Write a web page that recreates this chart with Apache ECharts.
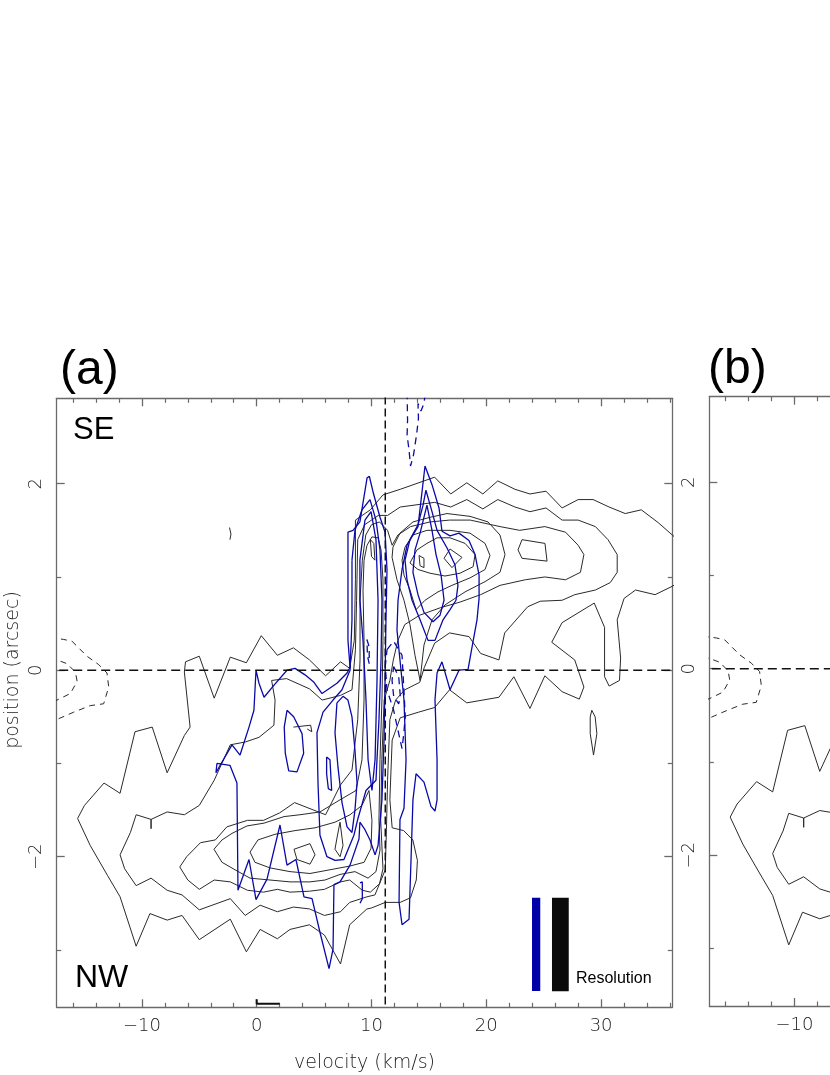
<!DOCTYPE html>
<html><head><meta charset="utf-8">
<script src="https://cdn.jsdelivr.net/npm/echarts@6/dist/echarts.min.js"></script>
<style>html,body{margin:0;padding:0;background:#fff}#c{width:830px;height:1075px}</style>
</head><body><div id="c"></div>
<script>
// ---- axis tick values ----
const velTicks = [-10, 0, 10, 20, 30];
const velMinor = [-16,-14,-12,-8,-6,-4,-2,2,4,6,8,12,14,16,18,22,24,26,28,32,34,36];
const posTicks = [-2, 0, 2];
const posMinor = [-3, -1, 1];
const velRange = [-17.42, 36.2];
const posRange = [-3.615, 2.916];
const systemicVel = 11.2;   // vertical dashed reference
const centerPos = 0;        // horizontal dashed reference

// ---- black (solid) contours [velocity, position] ----
const k1 = [[-15.6,-1.59],[-15.0,-1.45],[-13.3,-1.21],[-11.9,-1.32],[-10.6,-0.66],[-9.1,-0.61],[-7.8,-1.10],[-6.3,-0.70],[-5.8,-0.61],[-6.3,-0.02],[-6.2,0.09],[-5.0,0.15],[-3.7,-0.30],[-2.3,0.14],[-0.9,0.08],[0.4,0.37],[1.8,0.16],[3.2,0.24],[4.6,0.11],[6.0,-0.06],[7.3,0.09],[8.1,0.02],[8.5,0.32],[8.6,0.97],[8.6,1.61],[9.9,1.72],[11.0,1.88],[12.5,1.94],[15.5,2.07],[16.9,1.89],[18.3,2.01],[19.7,1.89],[21.0,2.03],[22.5,1.94],[23.8,1.89],[25.2,1.92],[26.6,1.74],[28.0,1.83],[29.3,1.83],[30.7,1.75],[32.1,1.68],[33.5,1.72],[35.0,1.58],[36.2,1.45],[37.7,1.29],[37.7,1.02],[36.2,0.90],[34.7,0.81],[33.0,0.86],[32.0,0.77],[31.4,0.54],[31.7,0.13],[31.6,-0.11],[30.7,-0.17],[30.3,-0.07],[30.3,0.46],[29.4,0.72],[26.6,0.51],[25.7,0.30],[27.7,0.11],[28.5,-0.18],[28.1,-0.31],[26.6,-0.23],[25.1,-0.06],[23.8,-0.41],[22.4,-0.07],[21.1,-0.29],[18.3,-0.35],[16.8,-0.21],[15.5,-0.40],[14.1,-0.45],[12.5,-0.51],[11.8,-0.75],[11.6,-1.39],[11.8,-1.69],[12.8,-1.72],[13.6,-1.82],[14.0,-2.04],[13.9,-2.25],[13.4,-2.44],[12.5,-2.49],[11.2,-2.49],[10.0,-2.55],[9.6,-2.56],[8.1,-2.73],[7.3,-3.15],[5.9,-2.84],[4.6,-2.73],[2.9,-2.78],[1.8,-2.88],[0.3,-2.78],[-0.9,-3.02],[-2.3,-2.67],[-5.0,-2.89],[-6.5,-2.63],[-7.8,-2.68],[-9.3,-2.61],[-10.5,-2.96],[-11.9,-2.43],[-13.0,-2.20],[-14.5,-1.88],[-15.6,-1.59]];
const k2 = [[-11.9,-1.98],[-11.0,-1.74],[-10.5,-1.55],[-9.2,-1.60],[-9.2,-1.70],[-9.2,-1.60],[-7.8,-1.52],[-6.3,-1.55],[-5.0,-1.45],[-3.7,-1.18],[-2.3,-0.80],[-1.0,-0.77],[0.2,-0.72],[1.5,-0.59],[1.6,-0.32],[1.3,-0.11],[2.6,-0.09],[4.6,-0.20],[5.7,-0.32],[7.3,-0.27],[8.3,-0.21],[8.6,0.22],[8.7,0.75],[8.8,1.40],[9.4,1.56],[10.6,1.66],[11.4,1.66],[12.5,1.75],[15.5,1.80],[16.9,1.75],[18.3,1.83],[19.7,1.73],[21.0,1.83],[22.5,1.75],[23.8,1.70],[25.2,1.74],[26.6,1.61],[28.0,1.61],[29.5,1.54],[30.6,1.40],[31.4,1.24],[31.4,1.05],[30.8,0.94],[29.5,0.86],[27.7,0.81],[26.6,0.75],[24.7,0.74],[23.6,0.68],[21.6,0.40],[21.1,0.11],[19.5,0.18],[18.5,0.36],[16.8,0.40],[15.5,0.29],[14.6,0.03],[14.2,-0.13],[12.9,-0.21],[12.1,-0.32],[11.6,-0.53],[11.4,-1.18],[11.3,-1.71],[11.2,-2.14],[10.3,-2.41],[9.6,-2.43],[8.1,-2.49],[7.3,-2.59],[5.9,-2.63],[4.6,-2.56],[3.2,-2.54],[1.8,-2.59],[0.3,-2.52],[-1.0,-2.63],[-2.3,-2.45],[-5.0,-2.57],[-6.5,-2.41],[-7.8,-2.36],[-9.2,-2.23],[-10.5,-2.31],[-11.5,-2.13],[-11.9,-1.98]];
const k3 = [[-6.7,-2.11],[-6.1,-2.00],[-4.9,-1.85],[-3.6,-1.82],[-2.6,-1.68],[-0.8,-1.61],[0.6,-1.61],[2.0,-1.53],[3.3,-1.42],[6.0,-1.55],[7.3,-1.23],[8.3,-1.07],[8.8,-0.53],[9.0,0.11],[9.0,0.75],[9.2,1.18],[9.5,1.45],[10.0,1.56],[10.7,1.59],[11.4,1.50],[11.8,1.34],[12.3,1.45],[13.4,1.54],[15.1,1.59],[16.8,1.61],[18.6,1.61],[21.2,1.54],[22.9,1.50],[25.1,1.54],[26.9,1.48],[28.0,1.34],[28.5,1.24],[28.2,1.05],[26.9,0.97],[25.1,1.00],[23.4,0.97],[21.2,0.91],[19.5,0.81],[17.7,0.73],[16.0,0.67],[14.2,0.59],[12.9,0.49],[12.3,0.32],[11.9,0.11],[11.6,-0.11],[11.1,-0.32],[10.9,-0.96],[10.8,-1.61],[11.0,-2.13],[10.7,-2.29],[9.9,-2.38],[9.2,-2.36],[8.1,-2.25],[7.3,-2.27],[5.9,-2.35],[4.6,-2.37],[2.9,-2.38],[1.8,-2.35],[0.6,-2.38],[-0.8,-2.36],[-2.3,-2.27],[-3.7,-2.25],[-5.0,-2.35],[-6.0,-2.25],[-6.7,-2.11]];
const k4 = [[-3.72,-1.92],[-3.02,-1.82],[-2.15,-1.75],[-0.84,-1.67],[0.64,-1.64],[2.38,-1.57],[3.77,-1.55],[5.51,-1.52],[7.26,-1.39],[8.65,-1.29],[9.17,-0.96],[9.35,-0.32],[9.35,0.32],[9.26,0.86],[9.35,1.18],[9.61,1.34],[10.04,1.43],[10.57,1.42],[10.83,1.29],[11.0,0.97],[11.0,0.32],[10.91,-0.32],[10.74,-0.96],[10.65,-1.61],[10.74,-1.93],[10.39,-2.16],[9.70,-2.23],[8.56,-2.16],[7.26,-2.19],[5.95,-2.25],[4.64,-2.27],[2.90,-2.27],[1.16,-2.25],[-0.58,-2.23],[-1.89,-2.14],[-3.02,-2.06],[-3.72,-1.92]];
const k5 = [[-0.58,-1.95],[0.11,-1.82],[1.59,-1.76],[3.34,-1.72],[5.08,-1.69],[6.82,-1.63],[8.13,-1.55],[9.17,-1.45],[9.78,-1.29],[10.04,-1.61],[9.96,-1.91],[9.35,-2.06],[8.13,-2.10],[6.39,-2.14],[4.64,-2.18],[2.90,-2.16],[1.16,-2.12],[-0.15,-2.06],[-0.58,-1.95]];
const k6 = [[3.25,-1.92],[4.64,-1.86],[5.08,-1.98],[4.64,-2.08],[3.51,-2.03],[3.25,-1.92]];
const k6b = [[6.99,-1.80],[7.26,-1.63],[7.52,-1.88],[7.26,-2.00],[6.82,-1.92],[6.99,-1.80]];
const r3 = [[11.79,1.21],[11.87,1.32],[12.48,1.47],[13.61,1.59],[15.10,1.64],[16.58,1.68],[18.58,1.65],[20.15,1.59],[21.19,1.45],[21.63,1.24],[21.19,1.05],[19.89,0.95],[18.15,0.84],[16.40,0.70],[15.27,0.54],[14.57,0.27],[14.23,-0.11],[13.79,0.16],[13.35,0.49],[12.83,0.75],[12.22,0.97],[11.79,1.21]];
const r4 = [[12.66,1.18],[12.92,1.32],[13.61,1.45],[14.83,1.50],[16.84,1.50],[18.58,1.47],[19.89,1.36],[20.32,1.23],[19.89,1.08],[18.58,0.99],[17.01,0.91],[15.79,0.84],[14.66,0.75],[13.88,0.65],[13.35,0.86],[12.83,1.02],[12.66,1.18]];
const r5 = [[13.35,1.15],[13.96,1.29],[14.83,1.36],[15.71,1.42],[16.84,1.42],[18.15,1.36],[19.02,1.24],[18.85,1.11],[17.71,1.04],[16.40,1.01],[15.10,1.04],[14.05,1.08],[13.35,1.15]];
const r6 = [[16.84,1.30],[17.88,1.21],[17.01,1.10],[16.32,1.20],[16.84,1.30]];
const r7 = [[23.11,1.40],[25.11,1.36],[25.29,1.17],[23.11,1.20],[22.76,1.29],[23.11,1.40]];
const r8 = [[14.14,1.23],[14.57,1.20],[14.57,1.10],[14.23,1.12],[14.14,1.23]];
const peakLoop = [[9.9,1.40],[10.2,1.36],[10.3,1.18],[10.0,1.22],[9.9,1.40]];
const farLoop = [[29.19,-0.43],[29.48,-0.50],[29.63,-0.68],[29.34,-0.91],[29.05,-0.68],[29.05,-0.50],[29.19,-0.43]];
const squiggle = [[-2.37,1.53],[-2.24,1.46],[-2.37,1.47],[-2.33,1.40]];
const hook = [[3.2,-0.61],[4.7,-0.59],[4.8,-0.66],[4.4,-0.63]];

// ---- black dashed (negative) contours ----
const kd1 = [[-18.0,0.35],[-17.39,0.34],[-16.81,0.33],[-16.08,0.31],[-14.78,0.15],[-13.76,0.06],[-13.04,-0.03],[-12.89,-0.18],[-13.33,-0.36],[-14.50,-0.38],[-15.94,-0.45],[-17.25,-0.52],[-18.0,-0.56]];
const kd2 = [[-18.0,0.13],[-17.39,0.11],[-16.52,0.07],[-15.79,-0.02],[-15.64,-0.12],[-16.23,-0.25],[-17.39,-0.32],[-18.0,-0.34]];

// ---- blue (solid) contours ----
const bl1 = [[9.81,2.08],[10.16,1.90],[10.74,1.64],[11.18,1.48],[11.35,1.08],[11.26,0.54],[11.18,-0.11],[11.09,-0.75],[10.91,-1.39],[10.57,-1.88],[10.31,-1.98],[9.87,-1.82],[9.43,-1.71],[8.99,-1.63],[8.91,-1.81],[8.13,-2.09],[7.26,-2.27],[6.73,-2.30],[6.65,-2.99],[6.30,-3.20],[5.51,-2.81],[4.82,-2.45],[4.12,-2.43],[3.42,-2.03],[2.64,-2.09],[2.03,-1.66],[0.90,-2.24],[-0.06,-2.46],[-0.67,-2.03],[-1.63,-2.36],[-1.72,-1.21],[-2.33,-1.02],[-3.46,-1.00],[-3.55,-1.10],[-2.76,-0.93],[-2.15,-0.80],[-1.45,-0.91],[-0.67,-0.61],[-0.24,-0.43],[-0.06,0.00],[0.20,-0.14],[0.64,-0.29],[1.51,-0.16],[2.64,0.00],[3.34,0.02],[4.21,-0.05],[4.99,-0.13],[5.69,-0.25],[6.99,-0.14],[7.87,-0.03],[8.13,0.03],[7.95,0.32],[7.95,1.18],[7.95,1.48],[8.39,1.50],[8.99,1.59],[9.61,2.06],[9.81,2.08]];
const bl2 = [[8.30,1.18],[8.56,1.50],[9.17,1.72],[9.87,1.83],[10.39,1.61],[10.74,1.29],[10.91,0.75],[10.83,0.11],[10.65,-0.53],[10.39,-1.18],[9.52,-1.29],[8.82,-1.59],[8.47,-1.77],[7.60,-2.03],[6.82,-2.04],[6.12,-2.00],[5.51,-1.77],[5.34,-1.21],[5.25,-0.67],[5.78,-0.45],[6.65,-0.32],[7.43,-0.21],[8.13,0.00],[8.30,0.54],[8.30,1.18]];
const bl3 = [[9.43,1.61],[9.96,1.70],[10.39,1.40],[10.57,0.75],[10.48,-0.11],[10.31,-0.96],[10.04,-1.29],[9.70,-0.96],[9.52,-0.32],[9.26,0.32],[8.99,0.75],[8.99,1.18],[9.43,1.61]];
const bl4 = [[6.99,-0.35],[6.82,-0.67],[7.08,-1.04],[7.43,-1.42],[7.87,-1.68],[8.30,-1.74],[8.56,-1.50],[8.74,-1.21],[8.56,-0.86],[8.30,-0.50],[7.95,-0.32],[7.52,-0.28],[6.99,-0.35]];
const bl5 = [[6.09,-0.93],[6.38,-0.96],[6.53,-1.29],[6.24,-1.27],[6.09,-1.11],[6.09,-0.93]];
const bl6 = [[2.64,-0.43],[3.22,-0.50],[3.95,-0.68],[4.09,-0.89],[3.51,-1.09],[2.79,-1.08],[2.49,-0.89],[2.40,-0.61],[2.64,-0.43]];
const blTiny = [[9.0,-2.28],[9.2,-2.27],[9.2,-2.45],[9.0,-2.50]];
const br1 = [[14.66,2.19],[15.27,1.99],[15.88,1.74],[16.14,1.49],[16.84,1.44],[17.62,1.47],[18.49,1.39],[19.02,1.24],[19.37,1.02],[19.37,0.77],[19.19,0.54],[18.76,0.25],[18.41,0.01],[17.62,0.00],[16.84,-0.21],[16.14,0.09],[15.71,-0.03],[15.53,-0.32],[15.71,-0.96],[15.71,-1.39],[15.53,-1.51],[15.18,-1.46],[14.57,-1.20],[13.88,-1.11],[13.61,-1.39],[13.44,-2.04],[13.27,-2.67],[12.66,-2.73],[12.40,-2.49],[12.48,-1.60],[12.83,-1.48],[13.01,-0.96],[12.83,-0.32],[12.48,0.11],[12.22,0.43],[12.31,0.75],[12.66,1.08],[13.09,1.34],[13.61,1.45],[14.05,1.54],[14.66,2.19]];
const br2 = [[14.74,1.93],[15.27,1.70],[15.71,1.50],[16.58,1.31],[17.27,1.13],[17.53,0.91],[17.36,0.75],[16.84,0.65],[16.23,0.54],[15.53,0.32],[14.92,0.32],[14.23,0.54],[13.53,0.75],[13.09,0.97],[12.92,1.18],[13.35,1.40],[14.05,1.56],[14.49,1.77],[14.74,1.93]];
const br3 = [[14.83,1.77],[15.27,1.50],[15.62,1.24],[16.06,1.02],[16.32,0.75],[15.97,0.59],[15.36,0.52],[14.57,0.62],[14.05,0.81],[13.61,1.05],[13.79,1.29],[14.23,1.47],[14.83,1.77]];

// ---- blue dashed (negative) contours ----
const bd1 = [[13.1,2.98],[13.14,2.68],[13.1,2.52],[13.27,2.36],[13.4,2.19],[13.66,2.31],[13.92,2.52],[14.09,2.70],[14.05,2.86],[14.31,2.78],[14.57,2.86],[14.7,2.98]];
const bd2 = [[11.35,0.22],[11.93,0.31],[12.66,0.16],[12.81,-0.18],[12.94,-0.50],[12.81,-0.68],[12.66,-0.84],[12.37,-0.68],[11.93,-0.43],[11.35,-0.21],[11.2,0.04],[11.35,0.22]];
const bd3 = [[11.93,0.04],[12.37,-0.07],[12.51,-0.28],[12.37,-0.36],[11.93,-0.28],[11.79,-0.11],[11.93,0.04]];
const bd4 = [[9.6,0.33],[9.8,0.25],[9.8,0.07],[9.65,0.15],[9.6,0.33]];

// ---- resolution bars [vMin, vMax, pTop, pBottom] and channel bar ----
const resBarBlue = [23.98, 24.70, -2.44, -3.44];
const resBarBlack = [25.72, 27.18, -2.44, -3.443];
const channelBar = [[0, -3.529], [0, -3.576], [2.0, -3.576]];

const blackSolid = [k1,k2,k3,k4,k5,k6,k6b,r3,r4,r5,r6,r7,r8,peakLoop,farLoop,squiggle,hook];
const blackDashed = [kd1,kd2];
const blueSolid = [bl1,bl2,bl3,bl4,bl5,bl6,blTiny,br1,br2,br3];
const blueDashed = [bd1,bd2,bd3,bd4];

const AX = '#6a6a6a';
const BLUE = '#0a0aa8';
const BLK = '#2a2a2a';
const minusFmt = v => String(v).replace('-', '\u2212');
const tickFont = {color:'#222', fontSize:18, fontFamily:'DejaVu Sans', fontWeight:300};

function xAxes(g, withName) {
  const base = {type:'value', gridIndex:g, min:velRange[0], max:velRange[1], splitLine:{show:false}, axisPointer:{show:false}};
  return [
    Object.assign({}, base, {position:'bottom', axisLine:{show:true,onZero:false,lineStyle:{color:AX,width:1.3}},
      axisTick:{show:true,inside:true,length:8,customValues:velTicks,lineStyle:{color:AX,width:1.3}},
      axisLabel:Object.assign({show:true,customValues:velTicks,formatter:minusFmt,margin:10}, tickFont),
      name: withName ? 'velocity (km/s)' : '', nameLocation:'middle', nameGap:46,
      nameTextStyle:{color:'#222',fontSize:19,fontFamily:'DejaVu Sans',fontWeight:300}}),
    Object.assign({}, base, {position:'top', axisLine:{show:true,onZero:false,lineStyle:{color:AX,width:1.3}},
      axisTick:{show:true,inside:true,length:8,customValues:velTicks,lineStyle:{color:AX,width:1.3}}, axisLabel:{show:false}}),
    Object.assign({}, base, {position:'bottom', axisLine:{show:false,onZero:false},
      axisTick:{show:true,inside:true,length:4.5,customValues:velMinor,lineStyle:{color:AX,width:1.2}}, axisLabel:{show:false}}),
    Object.assign({}, base, {position:'top', axisLine:{show:false,onZero:false},
      axisTick:{show:true,inside:true,length:4.5,customValues:velMinor,lineStyle:{color:AX,width:1.2}}, axisLabel:{show:false}})
  ];
}
function yAxes(g) {
  const base = {type:'value', gridIndex:g, min:posRange[0], max:posRange[1], splitLine:{show:false}, axisPointer:{show:false}};
  return [
    Object.assign({}, base, {position:'left', axisLine:{show:true,onZero:false,lineStyle:{color:AX,width:1.3}},
      axisTick:{show:true,inside:true,length:8,customValues:posTicks,lineStyle:{color:AX,width:1.3}},
      axisLabel:Object.assign({show:true,customValues:posTicks,formatter:minusFmt,margin:11,rotate:90}, tickFont)}),
    Object.assign({}, base, {position:'right', axisLine:{show:true,onZero:false,lineStyle:{color:AX,width:1.3}},
      axisTick:{show:true,inside:true,length:8,customValues:posTicks,lineStyle:{color:AX,width:1.3}}, axisLabel:{show:false}}),
    Object.assign({}, base, {position:'left', axisLine:{show:false,onZero:false},
      axisTick:{show:true,inside:true,length:4.5,customValues:posMinor,lineStyle:{color:AX,width:1.2}}, axisLabel:{show:false}}),
    Object.assign({}, base, {position:'right', axisLine:{show:false,onZero:false},
      axisTick:{show:true,inside:true,length:4.5,customValues:posMinor,lineStyle:{color:AX,width:1.2}}, axisLabel:{show:false}})
  ];
}

function lineSeries(data, ai, color, width, type, z) {
  return {type:'line', xAxisIndex:ai, yAxisIndex:ai, data:data, showSymbol:false, symbol:'none',
    silent:true, animation:false, clip:true, z:z, lineStyle:{color:color, width:width, type:type}};
}

const series = [];
[0, 4].forEach(function (ai) {
  blackSolid.forEach(d => series.push(lineSeries(d, ai, BLK, 1, 'solid', 3)));
  blackDashed.forEach(d => series.push(lineSeries(d, ai, BLK, 1, [6, 5], 3)));
  series.push(lineSeries([[velRange[0] - 1, centerPos], [velRange[1] + 1, centerPos]], ai, '#111', 1.5, [9, 5], 5));
});
blueSolid.forEach(d => series.push(lineSeries(d, 0, BLUE, 1.3, 'solid', 4)));
blueDashed.forEach(d => series.push(lineSeries(d, 0, BLUE, 1.3, [7, 5], 4)));
series.push(lineSeries([[systemicVel, posRange[0] - 1], [systemicVel, posRange[1] + 1]], 0, '#111', 1.5, [8, 4], 5));
series.push(lineSeries(channelBar, 0, '#111', 2, 'solid', 5));
series.push({
  type:'custom', xAxisIndex:0, yAxisIndex:0, silent:true, animation:false, z:6,
  data:[resBarBlue.concat([0]), resBarBlack.concat([1])],
  renderItem:function (params, api) {
    const p1 = api.coord([api.value(0), api.value(2)]);
    const p2 = api.coord([api.value(1), api.value(3)]);
    return {type:'rect', shape:{x:p1[0], y:p1[1], width:p2[0]-p1[0], height:p2[1]-p1[1]},
      style:{fill: api.value(4) === 0 ? '#0000a8' : '#0b0b0b'}};
  }
});

const chart = echarts.init(document.getElementById('c'), null, {renderer:'canvas'});
chart.setOption({
  backgroundColor:'#ffffff',
  animation:false,
  grid:[
    {left:56.7, top:398.3, width:615.6, height:609, containLabel:false, outerBoundsMode:'none'},
    {left:709.3, top:396.7, width:615.6, height:609.3, containLabel:false, outerBoundsMode:'none'}
  ],
  xAxis: xAxes(0, true).concat(xAxes(1, false)),
  yAxis: yAxes(0).concat(yAxes(1)),
  series: series,
  graphic:[
    {type:'text', x:60, y:371, style:{text:'(a)', font:'48px "Liberation Sans", Arial, sans-serif', fill:'#000', verticalAlign:'middle'}},
    {type:'text', x:708, y:369.5, style:{text:'(b)', font:'48px "Liberation Sans", Arial, sans-serif', fill:'#000', verticalAlign:'middle'}},
    {type:'text', x:73, y:430, style:{text:'SE', font:'31px "Liberation Sans", Arial, sans-serif', fill:'#000', verticalAlign:'middle'}},
    {type:'text', x:75, y:978, style:{text:'NW', font:'32px "Liberation Sans", Arial, sans-serif', fill:'#000', verticalAlign:'middle'}},
    {type:'text', x:576, y:979, style:{text:'Resolution', font:'16px "Liberation Sans", Arial, sans-serif', fill:'#000', verticalAlign:'middle'}},
    {type:'text', x:13, y:670, rotation:Math.PI/2, style:{text:'position (arcsec)', font:'300 19px "DejaVu Sans", sans-serif', fill:'#222', align:'center', verticalAlign:'middle'}}
  ]
});
</script>
</body></html>
